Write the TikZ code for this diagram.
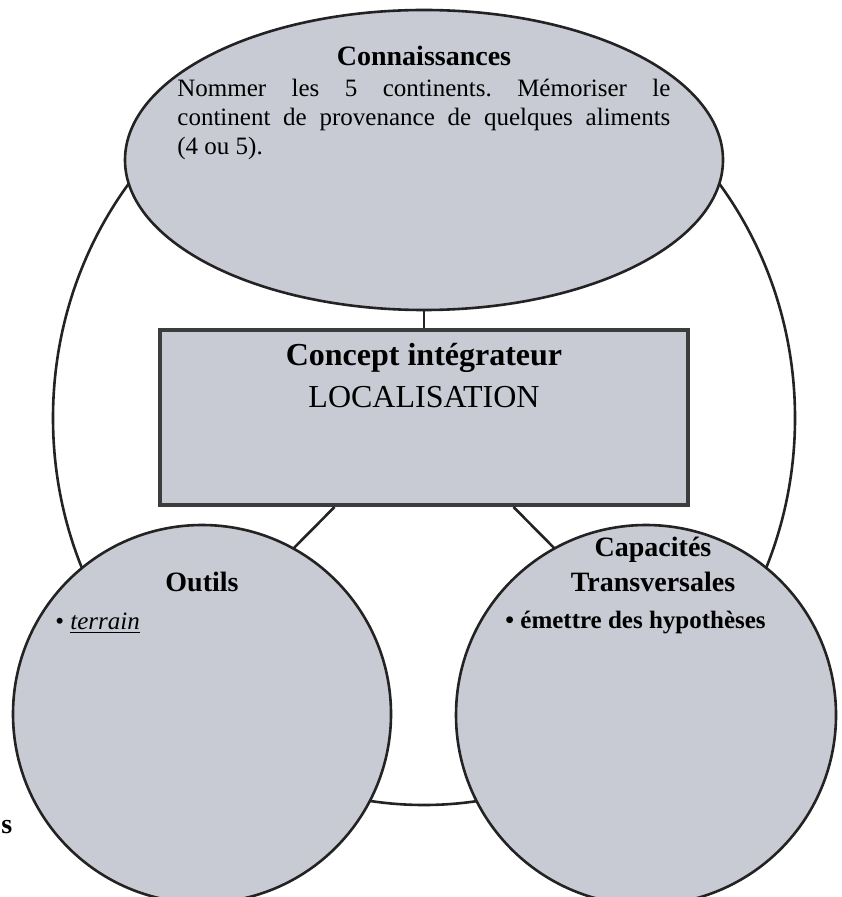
\documentclass[tikz,border=0pt]{standalone}
\usepackage{fontspec}
\setmainfont{Liberation Serif}
\usetikzlibrary{shapes.geometric}
\definecolor{blocgris}{RGB}{200,203,211}
\definecolor{trait}{RGB}{35,35,35}
\definecolor{cadre}{RGB}{60,60,60}
\tikzset{
  bloc/.style={draw=trait, line width=1.3pt, fill=blocgris, inner sep=0pt},
  titre/.style={font=\fontsize{14}{16}\selectfont\bfseries},
  texte/.style={font=\fontsize{12.5}{14.5}\selectfont, inner sep=0pt},
}
\frenchspacing
\begin{document}
\begin{tikzpicture}[x=0.5pt, y=-0.5pt]
      \useasboundingbox (0,0) rectangle (841,897);
      \node[ellipse, draw=trait, line width=1.3pt, minimum width=371pt, minimum height=387pt] (tout) at (424,418) {};
      \node[bloc, rectangle, draw=cadre, line width=2pt, minimum width=264pt, minimum height=87.5pt] (concept) at (424,417.5) {};
      \coordinate (versoutils) at (284,558);
      \coordinate (verscapa) at (564,558);
      \begin{scope}[draw=trait, line width=1.3pt]
        \draw (concept.-135) to (versoutils);
        \draw (concept.-45) to (verscapa);
      \end{scope}
      \node[bloc, ellipse, minimum width=299pt, minimum height=150pt] (conn) at (424,160) {};
      \node[bloc, circle, minimum size=189pt] (outils) at (202,714) {};
      \node[bloc, circle, minimum size=190pt] (capa) at (646,715) {};
      \draw[trait, line width=1.3pt] (conn.south) to (concept.north);
      % textes
      \node[titre] (tconn) at (424,56) {Connaissances};
      \node[texte, text width=246.5pt, align=justify, anchor=north west] (tnommer) at (177,79)
        {Nommer les 5 continents. Mémoriser le\linebreak continent de provenance de quelques aliments\linebreak (4 ou 5).};
      \node[font=\fontsize{16}{20}\selectfont\bfseries] (tconcept) at (424,358) {Concept intégrateur};
      \node[font=\fontsize{16}{20}\selectfont] (tloc) at (424,397) {LOCALISATION};
      \node[titre] (toutils) at (202,582) {Outils};
      \node[texte, anchor=west] (tterrain) at (55,623) {\textbullet\ \underline{\textit{terrain}}};
      \node[titre] (tcapa) at (653,550) {Capacités};
      \node[titre] (ttrans) at (653,582) {Transversales};
      \node[texte, font=\fontsize{12.5}{14.5}\selectfont\bfseries, anchor=west] (themis) at (505,623) {\textbullet\ émettre des hypothèses};
      \node[titre, inner sep=0pt, anchor=west] (ts) at (1,827) {s};
    \end{tikzpicture}
\end{document}
